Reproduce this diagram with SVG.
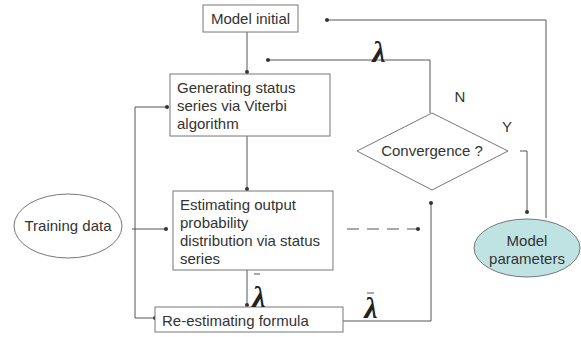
<svg xmlns="http://www.w3.org/2000/svg" width="581" height="337" viewBox="0 0 581 337">
<style>
.bx{fill:#fff;stroke:#777;stroke-width:1}
.t{font-family:"Liberation Sans",Arial,sans-serif;font-size:15px;fill:#333}
.c{stroke:#555;stroke-width:1;fill:none}
.lam{font-family:"Liberation Serif","DejaVu Serif",serif;font-style:italic;font-weight:bold;font-size:30px;fill:#222}
</style>
<defs>
<marker id="d" viewBox="0 0 6 6" refX="3" refY="3" markerWidth="4" markerHeight="4" markerUnits="userSpaceOnUse"><circle cx="3" cy="3" r="3" fill="#333"/></marker>
</defs>
<rect width="581" height="337" fill="#fff"/>
<g id="connectors">
<path class="c" d="M546,218 V20 H327" marker-end="url(#d)"/>
<path class="c" d="M247,32 V72" marker-end="url(#d)"/>
<path class="c" d="M430,113 V60 H268" marker-end="url(#d)"/>
<path class="c" d="M247,136 V189" marker-end="url(#d)"/>
<path class="c" d="M247,270 V305" marker-end="url(#d)"/>
<path class="c" d="M343,321 H431 V203" marker-end="url(#d)"/>
<path class="c" d="M347,229 H418" stroke-dasharray="12,8" marker-end="url(#d)"/>
<path class="c" d="M520,151 H527 V212" marker-end="url(#d)"/>
<path class="c" d="M132,229 H166" marker-end="url(#d)"/>
<path class="c" d="M135,107 H167" marker-end="url(#d)"/>
<path class="c" d="M135,107 V318 H155" marker-end="url(#d)"/>
</g>
<g id="model-initial"><rect class="bx" x="203" y="5" width="95" height="27"/><text class="t" x="250.5" y="24" text-anchor="middle">Model initial</text></g>
<g id="generating"><rect class="bx" x="170" y="74" width="160" height="62"/><text class="t" x="177" y="93">Generating status</text><text class="t" x="177" y="111">series via Viterbi</text><text class="t" x="177" y="129">algorithm</text></g>
<g id="estimating"><rect class="bx" x="173" y="191" width="160" height="79"/><text class="t" x="180" y="210">Estimating output</text><text class="t" x="180" y="228">probability</text><text class="t" x="180" y="246">distribution via status</text><text class="t" x="180" y="264">series</text></g>
<g id="re-estimating"><rect class="bx" x="155" y="307" width="188" height="25"/><text class="t" x="162" y="326">Re-estimating formula</text></g>
<g id="convergence"><polygon class="bx" points="357,151 432,113 508,151 432,190"/><text class="t" x="432" y="156" text-anchor="middle">Convergence ?</text></g>
<g id="training-data"><ellipse class="bx" cx="68" cy="226" rx="54" ry="32"/><text class="t" x="68" y="231" text-anchor="middle">Training data</text></g>
<g id="model-parameters"><ellipse cx="527" cy="248" rx="53" ry="29" fill="#bfe3e3" stroke="#777"/><text class="t" x="527" y="246" text-anchor="middle">Model</text><text class="t" x="527" y="264" text-anchor="middle">parameters</text></g>
<g id="labels">
<text class="t" x="460" y="102" text-anchor="middle">N</text>
<text class="t" x="507" y="132" text-anchor="middle">Y</text>
<text class="lam" x="379" y="62" text-anchor="middle">λ</text>
<text class="lam" x="259" y="307" text-anchor="middle">λ</text>
<line x1="254" y1="274" x2="260" y2="274" stroke="#555"/>
<text class="lam" x="371" y="318" text-anchor="middle">λ</text>
<line x1="367" y1="293" x2="374" y2="293" stroke="#555"/>
</g>
</svg>
